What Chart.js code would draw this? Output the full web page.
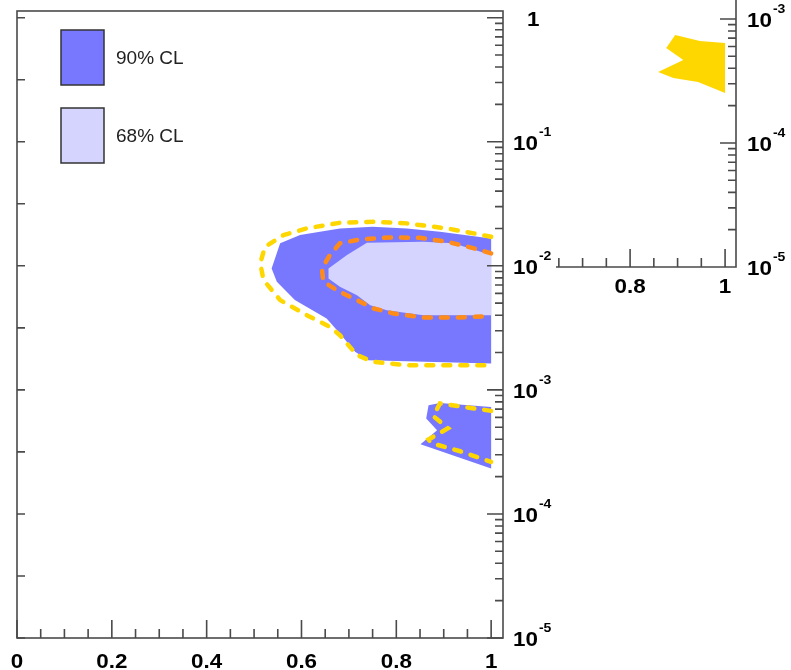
<!DOCTYPE html>
<html>
<head>
<meta charset="utf-8">
<script src="https://cdn.jsdelivr.net/npm/chart.js@4.4.1/dist/chart.umd.min.js"></script>
<style>
  html, body { margin: 0; padding: 0; background: #fff; }
  #wrap { position: relative; width: 791px; height: 670px; }
  #wrap canvas { position: absolute; left: 0; top: 0; }
</style>
</head>
<body>
<div id="wrap">
  <canvas id="main-chart" width="791" height="670"></canvas>
  <canvas id="inset-chart" width="791" height="670"></canvas>
</div>
<script>
// contours, [x, y] pairs
const cl90Fill = [[0.555,0.01517],[0.597,0.01769],[0.681,0.02002],[0.750,0.02063],[0.822,0.02002],[0.892,0.01880],[1.0,0.01663],
  [1.0,0.001633],[0.741,0.001736],[0.713,0.002025],[0.681,0.002851],[0.653,0.003765],[0.586,0.00529],[0.548,0.00743],[0.537,0.009528],[0.555,0.01517]];
const cl90IslandFill = [[0.868,0.000752],[0.892,0.000785],[1.0,0.000729],[1.0,0.000232],[0.851,0.000365],[0.886,0.000473],[0.863,0.000588],[0.868,0.000752]];
const cl68Fill = [[0.657,0.00953],[0.696,0.0122],[0.738,0.01532],[0.857,0.01561],[0.920,0.01517],[1.0,0.0122],[1.0,0.004003],
  [0.857,0.004003],[0.780,0.004393],[0.745,0.00482],[0.717,0.005802],[0.681,0.006768],[0.657,0.007911],[0.657,0.00953]];
const cl68Line = [[1.0,0.01259],[0.962,0.0139],[0.907,0.01561],[0.850,0.01682],[0.787,0.01694],[0.724,0.01633],[0.681,0.01517],[0.660,0.0122],
  [0.643,0.00953],[0.646,0.00743],[0.681,0.00617],[0.717,0.00529],[0.752,0.004535],[0.794,0.004131],[0.857,0.003836],[0.928,0.003836],[1.0,0.00393]];
const cl90Line = [[1.0,0.01714],[0.963,0.01825],[0.907,0.02002],[0.822,0.02198],[0.752,0.02263],[0.681,0.02222],[0.611,0.02002],[0.562,0.01769],
  [0.523,0.01423],[0.513,0.01046],[0.520,0.007666],[0.555,0.00529],[0.611,0.004003],[0.660,0.003221],[0.681,0.002761],[0.717,0.001905],
  [0.752,0.001682],[0.822,0.001582],[1.0,0.001582]];
const cl90IslandLine = [[1.0,0.000677],[0.892,0.000777],[0.878,0.000614],[0.909,0.000491],[0.868,0.000398],[0.874,0.000372],[0.935,0.00032],[1.0,0.000263]];
const insetFill = [[0.895,0.000743],[0.947,0.000665],[1.0,0.00064],[1.0,0.000253],[0.943,0.00031],[0.891,0.000334],[0.859,0.000374],
  [0.912,0.000467],[0.876,0.000583],[0.895,0.000743]];

// axis labels
const xLabelsMain = ['0', '0.2', '0.4', '0.6', '0.8', '1'];
const xValuesMain = [0, 0.2, 0.4, 0.6, 0.8, 1];
const yExpMain = [0, -1, -2, -3, -4, -5];
const xLabelsInset = ['0.8', '1'];
const xValuesInset = [0.8, 1];
const yExpInset = [-3, -4, -5];
const legendLabels = ['90% CL', '68% CL'];

const blue = '#7878ff';
const lavender = '#d4d4ff';
const gold = '#ffd700';
const orange = '#ff8c1a';
const axisColor = '#4a4a4a';
const numFont = '"Liberation Sans", Arial, sans-serif';
const stretch = 1.12;

function area(data, color, order) {
  return { data, backgroundColor: color, borderColor: 'rgba(0,0,0,0)', borderWidth: 0,
    fill: 'shape', pointRadius: 0, order };
}
function dashed(data, color, order) {
  return { data, borderColor: color, borderWidth: 4.5, borderDash: [7, 10], borderCapStyle: 'round',
    fill: false, pointRadius: 0, order };
}

// bold numbers, slightly wide like the Helvetica labels
function wideText(ctx, text, x, y, size, align) {
  ctx.save();
  ctx.font = 'bold ' + size + 'px ' + numFont;
  ctx.textBaseline = 'alphabetic';
  ctx.textAlign = 'left';
  const w = ctx.measureText(text).width * stretch;
  const left = align === 'center' ? x - w / 2 : x;
  ctx.translate(left, y);
  ctx.scale(stretch, 1);
  ctx.fillText(text, 0, 0);
  ctx.restore();
  return w;
}

function powerLabel(ctx, x, py, exp) {
  if (exp === 0) {
    wideText(ctx, '1', x + 14, py + 8, 20, 'left');
    return;
  }
  const w = wideText(ctx, '10', x, py + 8, 20, 'left');
  wideText(ctx, String(exp), x + w + 1, py - 6, 12.5, 'left');
}

// ticks on a log axis, pointing into the frame
function logTicks(ctx, scale, xEdge, dir) {
  for (let d = -6; d <= 0; d++) {
    for (let m = 1; m <= 9; m++) {
      const v = m * Math.pow(10, d);
      if (v < scale.min || v > scale.max) continue;
      const py = scale.getPixelForValue(v);
      ctx.moveTo(xEdge, py);
      ctx.lineTo(xEdge + dir * (m === 1 ? 16 : 8), py);
    }
  }
}

const mainAxes = {
  id: 'mainAxes',
  afterDraw(chart) {
    const { ctx, chartArea: a, scales: { x, y } } = chart;
    ctx.save();
    ctx.strokeStyle = axisColor;
    ctx.lineWidth = 1.6;
    ctx.strokeRect(a.left, a.top, a.right - a.left, a.bottom - a.top);
    ctx.beginPath();
    for (let i = 0; i <= 20; i++) {
      const px = x.getPixelForValue(i * 0.05);
      ctx.moveTo(px, a.bottom);
      ctx.lineTo(px, a.bottom - (i % 4 === 0 ? 18 : 9));
    }
    logTicks(ctx, y, a.right, -1);
    for (let k = 0; k <= 10; k++) {
      const py = y.getPixelForValue(Math.pow(10, -k / 2));
      ctx.moveTo(a.left, py);
      ctx.lineTo(a.left + 8, py);
    }
    ctx.stroke();

    ctx.fillStyle = '#000';
    xValuesMain.forEach((v, i) => wideText(ctx, xLabelsMain[i], x.getPixelForValue(v), a.bottom + 30, 20, 'center'));
    yExpMain.forEach(e => powerLabel(ctx, a.right + 10, y.getPixelForValue(Math.pow(10, e)), e));

    // legend
    const ds = chart.data.datasets;
    [ds[0].backgroundColor, ds[2].backgroundColor].forEach((c, i) => {
      const top = a.top + 19 + i * 78;
      ctx.fillStyle = c;
      ctx.fillRect(a.left + 44, top, 43, 55);
      ctx.strokeStyle = '#333';
      ctx.lineWidth = 1.5;
      ctx.strokeRect(a.left + 44, top, 43, 55);
      ctx.fillStyle = '#222';
      ctx.font = '19px ' + numFont;
      ctx.textAlign = 'left';
      ctx.textBaseline = 'middle';
      ctx.fillText(legendLabels[i], a.left + 99, top + 29);
    });
    ctx.restore();
  }
};

const insetAxes = {
  id: 'insetAxes',
  afterDraw(chart) {
    const { ctx, chartArea: a, scales: { x, y } } = chart;
    ctx.save();
    ctx.strokeStyle = axisColor;
    ctx.lineWidth = 1.6;
    ctx.beginPath();
    ctx.moveTo(a.left, a.bottom);
    ctx.lineTo(a.right, a.bottom);
    ctx.lineTo(a.right, a.top);
    for (let i = 13; i <= 20; i++) {
      const px = x.getPixelForValue(i * 0.05);
      ctx.moveTo(px, a.bottom);
      ctx.lineTo(px, a.bottom - (i % 4 === 0 ? 18 : 9));
    }
    logTicks(ctx, y, a.right, -1);
    ctx.stroke();

    ctx.fillStyle = '#000';
    xValuesInset.forEach((v, i) => wideText(ctx, xLabelsInset[i], x.getPixelForValue(v), a.bottom + 26, 20, 'center'));
    yExpInset.forEach(e => powerLabel(ctx, a.right + 11, y.getPixelForValue(Math.pow(10, e)), e));
    ctx.restore();
  }
};

const common = {
  responsive: false,
  animation: false,
  plugins: { legend: { display: false }, tooltip: { enabled: false } },
  elements: { line: { tension: 0 } }
};

new Chart(document.querySelector('#main-chart').getContext('2d'), {
  type: 'line',
  data: {
    datasets: [
      area(cl90Fill, blue, 5),
      area(cl90IslandFill, blue, 4),
      area(cl68Fill, lavender, 3),
      dashed(cl68Line, orange, 2),
      dashed(cl90Line, gold, 1),
      dashed(cl90IslandLine, gold, 0)
    ]
  },
  options: {
    ...common,
    layout: { padding: { left: 17, top: 11, right: 288, bottom: 32 } },
    scales: {
      x: { type: 'linear', min: 0, max: 1.025, display: false },
      y: { type: 'logarithmic', min: 1e-5, max: 1.132, display: false }
    }
  },
  plugins: [mainAxes]
});

new Chart(document.querySelector('#inset-chart').getContext('2d'), {
  type: 'line',
  data: { datasets: [area(insetFill, gold, 0)] },
  options: {
    ...common,
    layout: { padding: { left: 556, top: 0, right: 55, bottom: 403 } },
    scales: {
      x: { type: 'linear', min: 0.644, max: 1.023, display: false },
      y: { type: 'logarithmic', min: 1e-5, max: 0.001422, display: false }
    }
  },
  plugins: [insetAxes]
});
</script>
</body>
</html>
